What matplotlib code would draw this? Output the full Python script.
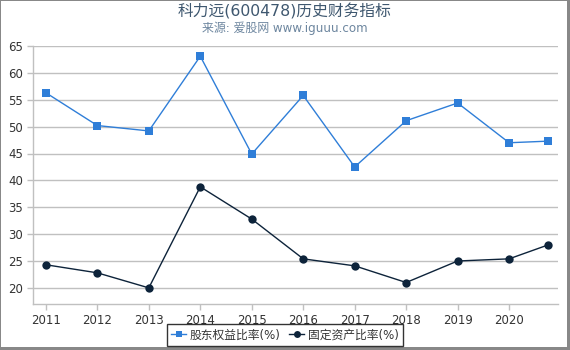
import matplotlib
matplotlib.use("Agg")
import matplotlib.pyplot as plt
from matplotlib.lines import Line2D
from matplotlib.patches import Rectangle

plt.rcParams['font.family'] = ['DejaVu Sans', 'Noto Sans CJK SC']

x_pos = [2011, 2012, 2013, 2014, 2015, 2016, 2017, 2018, 2019, 2020, 2020.76]
tick_years = [2011, 2012, 2013, 2014, 2015, 2016, 2017, 2018, 2019, 2020]
equity_ratio = [56.3, 50.2, 49.2, 63.1, 44.9, 55.8, 42.5, 51.1, 54.4, 47.0, 47.3]
fixed_asset_ratio = [24.3, 22.8, 20.0, 38.8, 32.8, 25.4, 24.1, 21.0, 25.0, 25.4, 28.0]
y_ticks = [20, 25, 30, 35, 40, 45, 50, 55, 60, 65]

W, H = 570, 350
fig = plt.figure(figsize=(W / 100, H / 100), dpi=100)
fig.patch.set_facecolor('white')

ax = fig.add_axes([33 / W, 1 - 304 / H, 525 / W, 258 / H])
ax.set_xlim(2010.75, 2020.95)
ax.set_ylim(17.0, 65)
ax.set_yticks(y_ticks)
ax.set_xticks(tick_years)
ax.set_xticklabels([str(y) for y in tick_years])
ax.yaxis.grid(True, color='#C0C0C0', linewidth=1)
ax.set_axisbelow(True)
for s in ['top', 'right']:
    ax.spines[s].set_visible(False)
for s in ['left', 'bottom']:
    ax.spines[s].set_color('#C0C0C0')
    ax.spines[s].set_linewidth(1)
ax.tick_params(axis='both', colors='#C0C0C0', labelcolor='#333333', labelsize=8.5, length=4, width=1)
ax.tick_params(axis='y', pad=3)
ax.tick_params(axis='x', pad=3)

ax.plot(x_pos, equity_ratio, color='#2f7ed8', linewidth=1, marker='s', markersize=6,
        markeredgewidth=0, label='股东权益比率(%)', clip_on=False, zorder=3)
ax.plot(x_pos, fixed_asset_ratio, color='#0d233a', linewidth=1, marker='o', markersize=6,
        markeredgewidth=0, label='固定资产比率(%)', clip_on=False, zorder=3)

fig.text(0.5, 1 - 11 / H, '科力远(600478)历史财务指标', ha='center', va='center',
         fontsize=11.3, color='#3E576F')
fig.text(0.5, 1 - 28 / H, '来源: 爱股网 www.iguuu.com', ha='center', va='center',
         fontsize=8.6, color='#6D869F')

handles = [Line2D([0], [0], color='#2f7ed8', marker='s', markersize=5, linewidth=1, markeredgewidth=0),
           Line2D([0], [0], color='#0d233a', marker='o', markersize=5, linewidth=1, markeredgewidth=0)]
leg = fig.legend(handles, ['股东权益比率(%)', '固定资产比率(%)'], loc='center',
                 bbox_to_anchor=(285 / W, 1 - 335 / H), ncol=2, frameon=True, fontsize=8.5,
                 handlelength=1.3, handletextpad=0.3, columnspacing=0.7, borderpad=0.35,
                 fancybox=False, edgecolor='black')
leg.get_frame().set_linewidth(1)
for t in leg.get_texts():
    t.set_color('#333333')

# figure border
fig.add_artist(Rectangle((0, 0), 1 / W, 1, transform=fig.transFigure, color='#888888', lw=0))
fig.add_artist(Rectangle((0, 1 - 1 / H), 1, 1 / H, transform=fig.transFigure, color='#888888', lw=0))
fig.add_artist(Rectangle((1 - 3 / W, 0), 3 / W, 1, transform=fig.transFigure, color='#888888', lw=0))
fig.add_artist(Rectangle((0, 0), 1, 3 / H, transform=fig.transFigure, color='#888888', lw=0))

fig.savefig('out.png', dpi=100, facecolor='white')
